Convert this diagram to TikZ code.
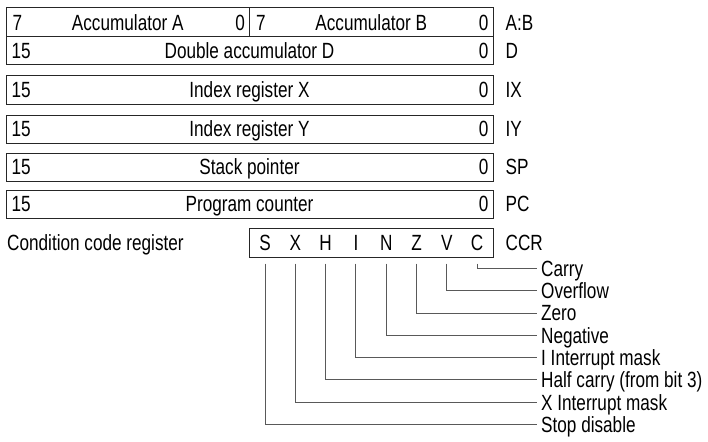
\documentclass[tikz,border=0pt]{standalone}
\usepackage{fontspec}
\setmainfont{Liberation Sans}[FakeStretch=0.78]
\usetikzlibrary{calc}

\begin{document}
\begin{tikzpicture}[x=1pt,y=-1pt,font=\fontsize{22}{22}\selectfont]
\useasboundingbox (0,0) rectangle (708,441);
\pgfmathsetmacro{\xMid}{249.5}
\pgfmathsetmacro{\bitGap}{30.3}

\tikzstyle{reg}=[draw=black!85,line width=1pt,inner sep=0pt,minimum height=28pt]
\tikzstyle{txt}=[inner sep=0pt,text height=15.7pt,text depth=0pt]
\tikzstyle{leader}=[draw=black!65,line width=0.9pt]

\node[reg,minimum width=243.5pt,minimum height=29pt] (acca) at (127.75,22.5) {};
\node[reg,minimum width=243.5pt,minimum height=29pt] (accb) at (371.25,22.5) {};
\node[reg,minimum width=487pt] (accd) at (\xMid,51) {};
\node[reg,minimum width=487pt] (ix) at (\xMid,90) {};
\node[reg,minimum width=487pt] (iy) at (\xMid,129) {};
\node[reg,minimum width=487pt] (sp) at (\xMid,167) {};
\node[reg,minimum width=487pt] (pc) at (\xMid,204) {};
\node[reg,minimum width=244pt,minimum height=29pt] (ccr) at (371,242.5) {};

\node[txt] (tacca) at (acca) {Accumulator A};
\node[txt,anchor=west] at ([xshift=7pt]acca.west) {7};
\node[txt,anchor=east] at ([xshift=-5pt]acca.east) {0};
\node[txt] (taccb) at (accb) {Accumulator B};
\node[txt,anchor=west] at ([xshift=7pt]accb.west) {7};
\node[txt,anchor=east] at ([xshift=-5pt]accb.east) {0};
\node[txt,anchor=west] (nab) at ([xshift=12pt]accb.east) {A:B};

\foreach \r/\name/\short in {accd/Double accumulator D/D, ix/Index register X/IX, iy/Index register Y/IY, sp/Stack pointer/SP, pc/Program counter/PC}{
  \node[txt] (t\r) at (\r) {\name};
  \node[txt,anchor=west] at ([xshift=6pt]\r.west) {15};
  \node[txt,anchor=east] at ([xshift=-5pt]\r.east) {0};
  \node[txt,anchor=west] (n\r) at ([xshift=12pt]\r.east) {\short};
}

\node[txt,anchor=west] (tccr) at (7,242.5) {Condition code register};
\node[txt,anchor=west] (nccr) at ([xshift=12pt]ccr.east) {CCR};

\foreach \b/\lab [count=\i] in {S/Stop disable, X/X Interrupt mask, H/Half carry (from bit 3), I/I Interrupt mask, N/Negative, Z/Zero, V/Overflow, C/Carry}{
  \node[txt] (bit\b) at ({265+(\i-1)*\bitGap},242.5) {\b};
  \node[txt,anchor=west,inner xsep=4pt] (flag\b) at (537,{424.5-(\i-1)*22.3}) {\lab};
  \draw[leader] ($(bit\b.south |- ccr.south)+(0,6)$) |- (flag\b.west);
}
\end{tikzpicture}
\end{document}
